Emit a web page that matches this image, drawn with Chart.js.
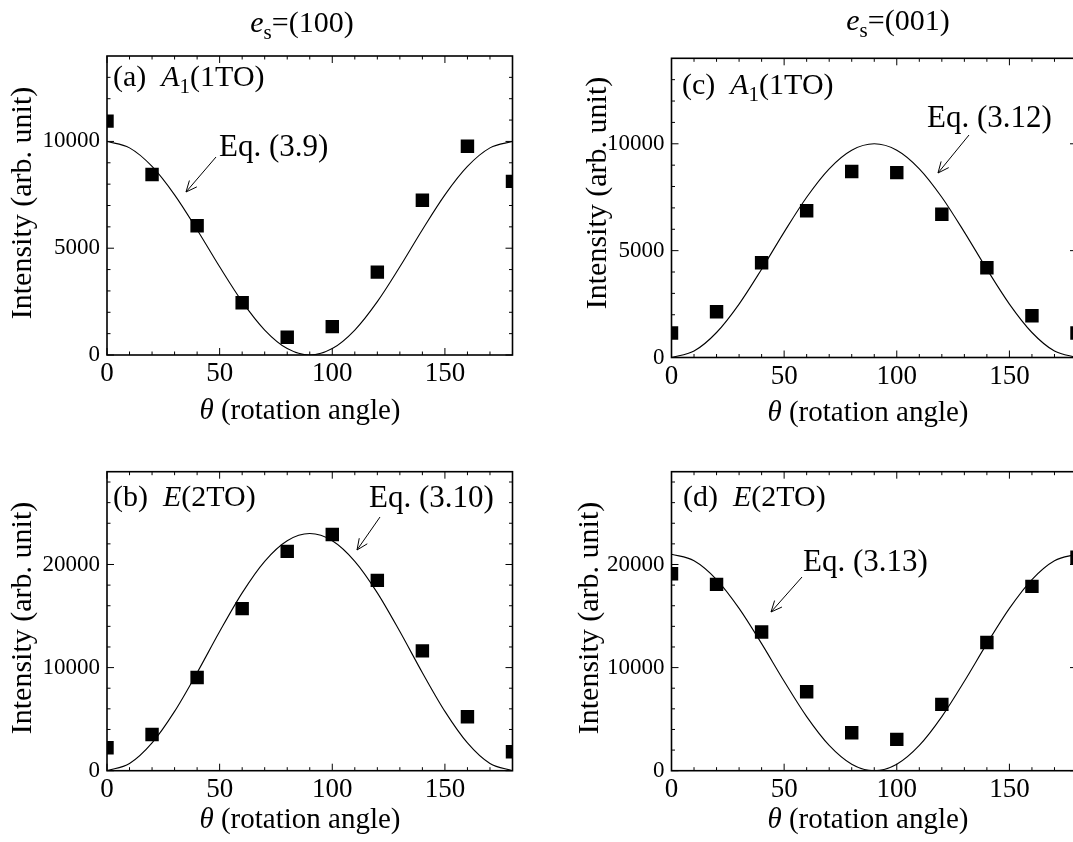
<!DOCTYPE html>
<html><head><meta charset="utf-8">
<script src="https://cdn.jsdelivr.net/npm/chart.js@4/dist/chart.umd.min.js"></script>
<style>
html,body{margin:0;padding:0;background:#fff;overflow:hidden;width:1073px;height:842px;}
canvas{position:absolute;}
</style></head><body>
<canvas id="ca" width="540" height="432" style="left:0;top:0"></canvas>
<canvas id="cc" width="560" height="432" style="left:540px;top:0"></canvas>
<canvas id="cb" width="540" height="422" style="left:0;top:420px"></canvas>
<canvas id="cd" width="560" height="422" style="left:540px;top:420px"></canvas>
<script>
// ---- data ----
const angles = [0, 20, 40, 60, 80, 100, 120, 140, 160, 180];
const fitAngles = [0, 10, 20, 30, 40, 50, 60, 70, 80, 90, 100, 110, 120, 130, 140, 150, 160, 170, 180];

const measA = [10950, 8450, 6050, 2450, 830, 1330, 3880, 7250, 9770, 8130];
const fitA  = [10000, 9698, 8830, 7500, 5868, 4132, 2500, 1170, 302, 0, 302, 1170, 2500, 4132, 5868, 7500, 8830, 9698, 10000];

const measB = [2230, 3520, 9040, 15720, 21270, 22910, 18460, 11620, 5230, 1840];
const fitB  = [0, 694, 2690, 5750, 9503, 13497, 17250, 20310, 22306, 23000, 22306, 20310, 17250, 13497, 9503, 5750, 2690, 694, 0];

const measC = [1150, 2140, 4430, 6870, 8700, 8650, 6700, 4200, 1950, 1150];
const fitC  = [0, 302, 1170, 2500, 4132, 5868, 7500, 8830, 9698, 10000, 9698, 8830, 7500, 5868, 4132, 2500, 1170, 302, 0];

const measD = [19100, 18070, 13450, 7650, 3680, 3040, 6430, 12430, 17880, 20700];
const fitD  = [21000, 20366, 18543, 15750, 12323, 8677, 5250, 2457, 634, 0, 634, 2457, 5250, 8677, 12323, 15750, 18543, 20366, 21000];

// tick values (minor marks) and labelled ticks
const xTickValues = [0, 10, 20, 30, 40, 50, 60, 70, 80, 90, 100, 110, 120, 130, 140, 150, 160, 170, 180];
const xTickLabels = [0, 50, 100, 150];
const yTickValuesTop = [0, 1000, 2000, 3000, 4000, 5000, 6000, 7000, 8000, 9000, 10000, 11000, 12000, 13000];
const yTickLabelsTop = [0, 5000, 10000];
const yTickValuesBottom = [0, 2000, 4000, 6000, 8000, 10000, 12000, 14000, 16000, 18000, 20000, 22000, 24000, 26000, 28000];
const yTickLabelsBottom = [0, 10000, 20000];

const FONT = 'Liberation Serif';

function fontFor(style, size) {
  if (style === 's') return (size * 0.7) + 'px "' + FONT + '"';
  if (style === 'i') return 'italic ' + size + 'px "' + FONT + '"';
  return size + 'px "' + FONT + '"';
}
function drawRich(ctx, parts, x, y, size, align) {
  ctx.save();
  ctx.fillStyle = '#000';
  ctx.textBaseline = 'alphabetic';
  ctx.textAlign = 'left';
  let w = 0;
  const ws = parts.map(p => { ctx.font = fontFor(p[1], size); const m = ctx.measureText(p[0]).width; w += m; return m; });
  let cx = align === 'center' ? x - w / 2 : x;
  parts.forEach((p, i) => {
    ctx.font = fontFor(p[1], size);
    ctx.fillText(p[0], cx, y + (p[1] === 's' ? size * 0.22 : 0));
    cx += ws[i];
  });
  ctx.restore();
}
function arrow(ctx, x1, y1, x2, y2) {
  ctx.save();
  ctx.strokeStyle = '#000';
  ctx.lineWidth = 1;
  ctx.beginPath();
  ctx.moveTo(x1, y1); ctx.lineTo(x2, y2);
  const a = Math.atan2(y2 - y1, x2 - x1);
  const L = 12, s = 0.42;
  ctx.moveTo(x2 - L * Math.cos(a - s), y2 - L * Math.sin(a - s));
  ctx.lineTo(x2, y2);
  ctx.lineTo(x2 - L * Math.cos(a + s), y2 - L * Math.sin(a + s));
  ctx.stroke();
  ctx.restore();
}

const decorPlugin = {
  id: 'decor',
  afterDraw(chart, args, o) {
    const ctx = chart.ctx;
    const ca = chart.chartArea;
    const xs = chart.scales.x, ys = chart.scales.y;
    ctx.save();
    ctx.strokeStyle = '#000';
    ctx.lineWidth = 1;
    ctx.beginPath();
    xs.ticks.forEach(t => {
      const px = xs.getPixelForValue(t.value);
      const len = t.value % 50 === 0 ? 7 : 3.5;
      ctx.moveTo(px, ca.bottom); ctx.lineTo(px, ca.bottom - len);
      ctx.moveTo(px, ca.top); ctx.lineTo(px, ca.top + len);
    });
    ys.ticks.forEach(t => {
      const py = ys.getPixelForValue(t.value);
      const len = t.value % o.yMajor === 0 ? 7 : 3.5;
      ctx.moveTo(ca.left, py); ctx.lineTo(ca.left + len, py);
      ctx.moveTo(ca.right, py); ctx.lineTo(ca.right - len, py);
    });
    ctx.stroke();
    ctx.lineWidth = 1.6;
    ctx.strokeRect(ca.left, ca.top, ca.right - ca.left, ca.bottom - ca.top);
    ctx.restore();

    if (o.colTitle) drawRich(ctx, [['e', 'i'], ['s', 's'], ['=' + o.colTitle, '']], o.colTitleX, o.colTitleY, 30, 'center');
    drawRich(ctx, o.label, o.labelX, o.labelY, 30, 'left');
    drawRich(ctx, [[o.eq, '']], o.eqX, o.eqY, 31, 'left');
    arrow(ctx, o.arrow[0], o.arrow[1], o.arrow[2], o.arrow[3]);
    ctx.save();
    ctx.fillStyle = '#000';
    ctx.font = '30px "' + FONT + '"';
    ctx.translate(o.yTitleX, o.yTitleY);
    ctx.rotate(-Math.PI / 2);
    ctx.textAlign = 'center';
    ctx.textBaseline = 'middle';
    ctx.fillText('Intensity (arb. unit)', 0, 0);
    ctx.restore();
    drawRich(ctx, [['\u03b8', 'i'], [' (rotation angle)', '']], o.xTitleX, o.xTitleY, 29, 'center');
  }
};

function makeChart(id, meas, fit, cfg) {
  return new Chart(document.getElementById(id), {
    type: 'scatter',
    data: {
      datasets: [
        { data: fitAngles.map((x, i) => ({ x: x, y: fit[i] })), showLine: true, borderColor: '#000', borderWidth: 1.1,
          pointRadius: 0, pointHoverRadius: 0, cubicInterpolationMode: 'monotone', fill: false, clip: 0, order: 2 },
        { data: angles.map((x, i) => ({ x: x, y: meas[i] })), pointStyle: 'rect', pointRadius: 9.5, pointHoverRadius: 9.5,
          backgroundColor: '#000', borderColor: '#000', borderWidth: 0, clip: 0, order: 1 }
      ]
    },
    options: {
      responsive: false, animation: false, devicePixelRatio: 1,
      events: [],
      layout: { padding: { left: 0, top: cfg.padTop, right: cfg.padRight, bottom: 0 } },
      plugins: { legend: { display: false }, tooltip: { enabled: false }, decor: cfg },
      scales: {
        x: {
          type: 'linear', min: 0, max: 180,
          grid: { display: false, drawTicks: false }, border: { display: false },
          ticks: { autoSkip: false, maxRotation: 0, padding: 3, color: '#000',
                   font: { family: FONT, size: 27 },
                   callback: v => xTickLabels.includes(v) ? String(v) : '' },
          afterBuildTicks: s => { s.ticks = xTickValues.map(v => ({ value: v })); },
          afterFit: s => { s.height = cfg.xH; }
        },
        y: {
          type: 'linear', min: 0, max: cfg.yMax,
          grid: { display: false, drawTicks: false }, border: { display: false },
          ticks: { autoSkip: false, padding: 7, color: '#000',
                   font: { family: FONT, size: 23 },
                   callback: v => cfg.yLabels.includes(v) ? String(v) : '' },
          afterBuildTicks: s => { s.ticks = cfg.yTicks.map(v => ({ value: v })); },
          afterFit: s => { s.width = cfg.yW; }
        }
      }
    },
    plugins: [decorPlugin]
  });
}

makeChart('ca', measA, fitA, {
  padTop: 56, padRight: 27.5, xH: 77, yW: 107, yMax: 14000, yTicks: yTickValuesTop, yMajor: 5000, yLabels: yTickLabelsTop,
  colTitle: '(100)', colTitleX: 302, colTitleY: 32,
  label: [['(a)  ', ''], ['A', 'i'], ['1', 's'], ['(1TO)', '']], labelX: 113, labelY: 86,
  eq: 'Eq. (3.9)', eqX: 219, eqY: 156, arrow: [216, 157, 186, 192],
  yTitleX: 23, yTitleY: 203, xTitleX: 300, xTitleY: 419
});
makeChart('cc', measC, fitC, {
  padTop: 58.3, padRight: 23, xH: 74.5, yW: 131.5, yMax: 14000, yTicks: yTickValuesTop, yMajor: 5000, yLabels: yTickLabelsTop,
  colTitle: '(001)', colTitleX: 358, colTitleY: 30,
  label: [['(c)  ', ''], ['A', 'i'], ['1', 's'], ['(1TO)', '']], labelX: 142, labelY: 94,
  eq: 'Eq. (3.12)', eqX: 387, eqY: 127, arrow: [429, 135, 398, 173],
  yTitleX: 58, yTitleY: 193, xTitleX: 328, xTitleY: 421
});
makeChart('cb', measB, fitB, {
  padTop: 51.7, padRight: 27.5, xH: 71.3, yW: 107, yMax: 29000, yTicks: yTickValuesBottom, yMajor: 10000, yLabels: yTickLabelsBottom,
  colTitle: null,
  label: [['(b)  ', ''], ['E', 'i'], ['(2TO)', '']], labelX: 113, labelY: 86,
  eq: 'Eq. (3.10)', eqX: 369, eqY: 87, arrow: [380, 97, 357, 130],
  yTitleX: 23, yTitleY: 198, xTitleX: 300, xTitleY: 408
});
makeChart('cd', measD, fitD, {
  padTop: 51.7, padRight: 23, xH: 71.3, yW: 131.5, yMax: 29000, yTicks: yTickValuesBottom, yMajor: 10000, yLabels: yTickLabelsBottom,
  colTitle: null,
  label: [['(d)  ', ''], ['E', 'i'], ['(2TO)', '']], labelX: 143, labelY: 86,
  eq: 'Eq. (3.13)', eqX: 263, eqY: 151, arrow: [262, 157, 231, 192],
  yTitleX: 50, yTitleY: 198, xTitleX: 328, xTitleY: 408
});
</script>
</body></html>
